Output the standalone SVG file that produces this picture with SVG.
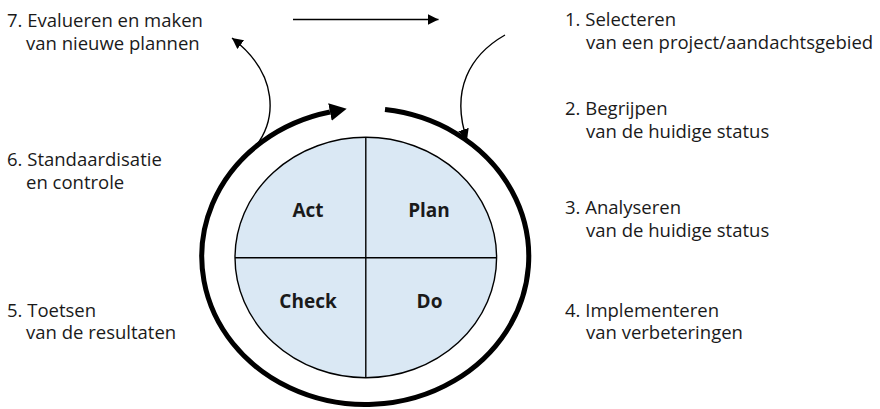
<svg xmlns="http://www.w3.org/2000/svg" width="880" height="409" viewBox="0 0 880 409">
<defs>
<style>
.lbl{font-family:"Open Sans","Noto Sans","Liberation Sans",sans-serif;font-size:18.5px;fill:#1a1a1a}
.q{font-family:"Open Sans","Noto Sans","Liberation Sans",sans-serif;font-size:19px;font-weight:bold;fill:#1a1a1a;text-anchor:middle}
.thin{fill:none;stroke:#000;stroke-width:1.4}
.ring{fill:none;stroke:#000;stroke-width:5}
.div{stroke:#000;stroke-width:1.4}
</style>
<marker id="ah" markerUnits="userSpaceOnUse" markerWidth="12" markerHeight="12" refX="11" refY="5.5" orient="auto">
<path d="M0,0 L11,5.5 L0,11 z" fill="#000"/>
</marker>
<marker id="ahBig" markerUnits="userSpaceOnUse" markerWidth="18" markerHeight="19" refX="0" refY="9" orient="auto">
<path d="M0,0 L17,9 L0,18 z" fill="#000"/>
</marker>
</defs>
<rect width="880" height="409" fill="#fff"/>

<g id="pdca">
<ellipse cx="365.8" cy="257.5" rx="130.8" ry="120.2" fill="#dae8f4" stroke="#000" stroke-width="1.4"/>
<line class="div" x1="365.8" y1="137.3" x2="365.8" y2="377.7"/>
<line class="div" x1="235" y1="257.7" x2="496.6" y2="257.7"/>
</g>
<g id="act"><text class="q" x="308" y="217">Act</text></g>
<g id="plan"><text class="q" x="429" y="217">Plan</text></g>
<g id="check"><text class="q" x="308" y="308">Check</text></g>
<g id="do"><text class="q" x="429.5" y="308">Do</text></g>

<g id="connectors">
<path class="ring" d="M385,109.6 A163.5 148 0 1 1 330,112" marker-end="url(#ahBig)"/>
<line class="thin" x1="293" y1="19.5" x2="438.5" y2="19.5" marker-end="url(#ah)"/>
<path class="thin" d="M256,146 C276,120 280,75 232,38" marker-end="url(#ah)"/>
<path class="thin" d="M505,35 C470,55 450,90 467,140" marker-end="url(#ah)"/>
</g>

<g id="step1"><text class="lbl" x="565" y="26">1. Selecteren<tspan x="586" y="49">van een project/aandachtsgebied</tspan></text></g>
<g id="step2"><text class="lbl" x="565" y="115">2. Begrijpen<tspan x="586" y="138">van de huidige status</tspan></text></g>
<g id="step3"><text class="lbl" x="565" y="214">3. Analyseren<tspan x="586" y="237">van de huidige status</tspan></text></g>
<g id="step4"><text class="lbl" x="565" y="316.5">4. Implementeren<tspan x="586" y="339">van verbeteringen</tspan></text></g>
<g id="step5"><text class="lbl" x="7" y="316.5">5. Toetsen<tspan x="26" y="339">van de resultaten</tspan></text></g>
<g id="step6"><text class="lbl" x="7" y="166">6. Standaardisatie<tspan x="26" y="189">en controle</tspan></text></g>
<g id="step7"><text class="lbl" x="7" y="27">7. Evalueren en maken<tspan x="26" y="50">van nieuwe plannen</tspan></text></g>
</svg>
